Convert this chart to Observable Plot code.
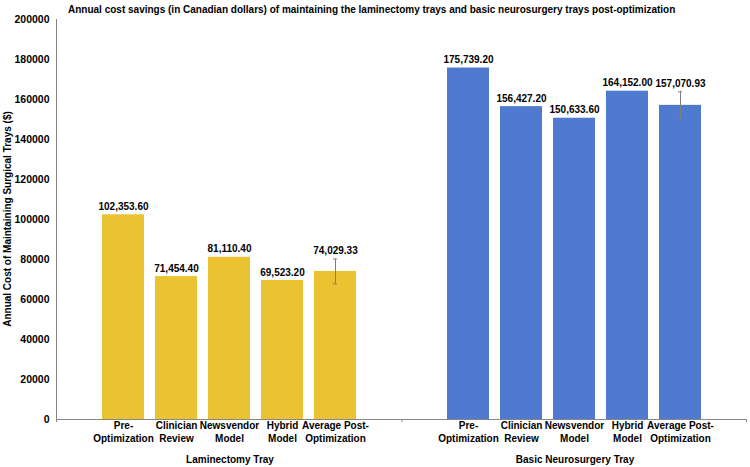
<!DOCTYPE html>
<html>
<head>
<meta charset="utf-8">
<script src="https://cdn.jsdelivr.net/npm/d3@7"></script>
<script src="https://cdn.jsdelivr.net/npm/@observablehq/plot@0.6"></script>
<style>
  body { margin: 0; background: #fff; }
  #chart { position: relative; width: 750px; height: 467px; }
</style>
</head>
<body>
<div id="chart"></div>
<script>
const titleText = "Annual cost savings (in Canadian dollars) of maintaining the laminectomy trays and basic neurosurgery trays post-optimization";
const yLabel = "Annual Cost of Maintaining Surgical Trays ($)";
const groups = ["Laminectomy Tray", "Basic Neurosurgery Tray"];
const categories = ["Pre-Optimization", "Clinician Review", "Newsvendor Model", "Hybrid Model", "Average Post-Optimization"];
const tickLabels = ["Pre-\nOptimization", "Clinician\nReview", "Newsvendor\nModel", "Hybrid\nModel", "Average Post-\nOptimization"];
const laminectomyCost = [102353.60, 71454.40, 81110.40, 69523.20, 74029.33];
const neuroCost = [175739.20, 156427.20, 150633.60, 164152.00, 157070.93];
const laminectomyErr = [0, 0, 0, 0, 6206];
const neuroErr = [0, 0, 0, 0, 6782];
const yTicks = [0, 20000, 40000, 60000, 80000, 100000, 120000, 140000, 160000, 180000, 200000];
const colors = ["#EBC232", "#5079D0"];

const data = [];
categories.forEach((c, i) => {
  data.push({group: groups[0], category: c, cost: laminectomyCost[i], err: laminectomyErr[i]});
});
categories.forEach((c, i) => {
  data.push({group: groups[1], category: c, cost: neuroCost[i], err: neuroErr[i]});
});
const errData = data.filter(d => d.err > 0);
const fmt = d3.format(",.2f");

const chart = Plot.plot({
  width: 750,
  height: 467,
  marginLeft: 56,
  marginRight: 3,
  marginTop: 19,
  marginBottom: 48,
  style: {fontFamily: "'Liberation Sans', Arial, sans-serif", fontSize: "10px", fontWeight: "bold", color: "#000"},
  fx: {domain: groups, padding: 0, label: null},
  x: {domain: categories, paddingInner: 0.2, paddingOuter: 0.85, label: null},
  y: {domain: [0, 200000], label: null},
  color: {domain: groups, range: colors},
  marks: [
    Plot.barY(data, {fx: "group", x: "category", y: "cost", fill: "group"}),
    Plot.ruleX(errData, {fx: "group", x: "category", y1: d => d.cost - d.err, y2: d => d.cost + d.err, stroke: "#7f7f7f", strokeWidth: 1}),
    Plot.tickY(errData, {fx: "group", x: "category", y: d => d.cost + d.err, stroke: "#7f7f7f", insetLeft: 19, insetRight: 19}),
    Plot.tickY(errData, {fx: "group", x: "category", y: d => d.cost - d.err, stroke: "#7f7f7f", insetLeft: 19, insetRight: 19}),
    Plot.text(data, {fx: "group", x: "category", y: d => d.cost + d.err, text: d => fmt(d.cost), dy: -8, fill: "#000"}),
    Plot.ruleY([0], {stroke: "#868686"}),
    Plot.axisY({ticks: yTicks, tickSize: 0, tickPadding: 8, fontSize: 10.5, tickFormat: d => String(d)}),
    Plot.axisX({tickSize: 0, tickPadding: 0, lineHeight: 1.3, tickFormat: d => tickLabels[categories.indexOf(d)]}),
    Plot.axisFx({anchor: "bottom", tickSize: 0, tickPadding: 36, label: null})
  ]
});

document.getElementById("chart").append(chart);

const svg = d3.select(chart);
const yS = chart.scale("y");
const y0 = yS.apply(0), yTop = yS.apply(200000);
svg.append("line").attr("x1", 56.5).attr("x2", 56.5).attr("y1", yTop).attr("y2", y0)
  .attr("stroke", "#868686");
[56.5, 402, 746.5].forEach(x => {
  svg.append("line").attr("x1", x).attr("x2", x).attr("y1", y0).attr("y2", y0 + 3).attr("stroke", "#868686");
});
svg.append("text").attr("x", 68).attr("y", 12.5).attr("fill", "#000").attr("text-anchor", "start")
  .style("font-size", "10px").style("font-weight", "bold").text(titleText);
svg.append("text").attr("transform", `translate(11,${(y0 + yTop) / 2}) rotate(-90)`)
  .attr("text-anchor", "middle").attr("fill", "#000")
  .style("font-size", "10px").style("font-weight", "bold").text(yLabel);
</script>
</body>
</html>
